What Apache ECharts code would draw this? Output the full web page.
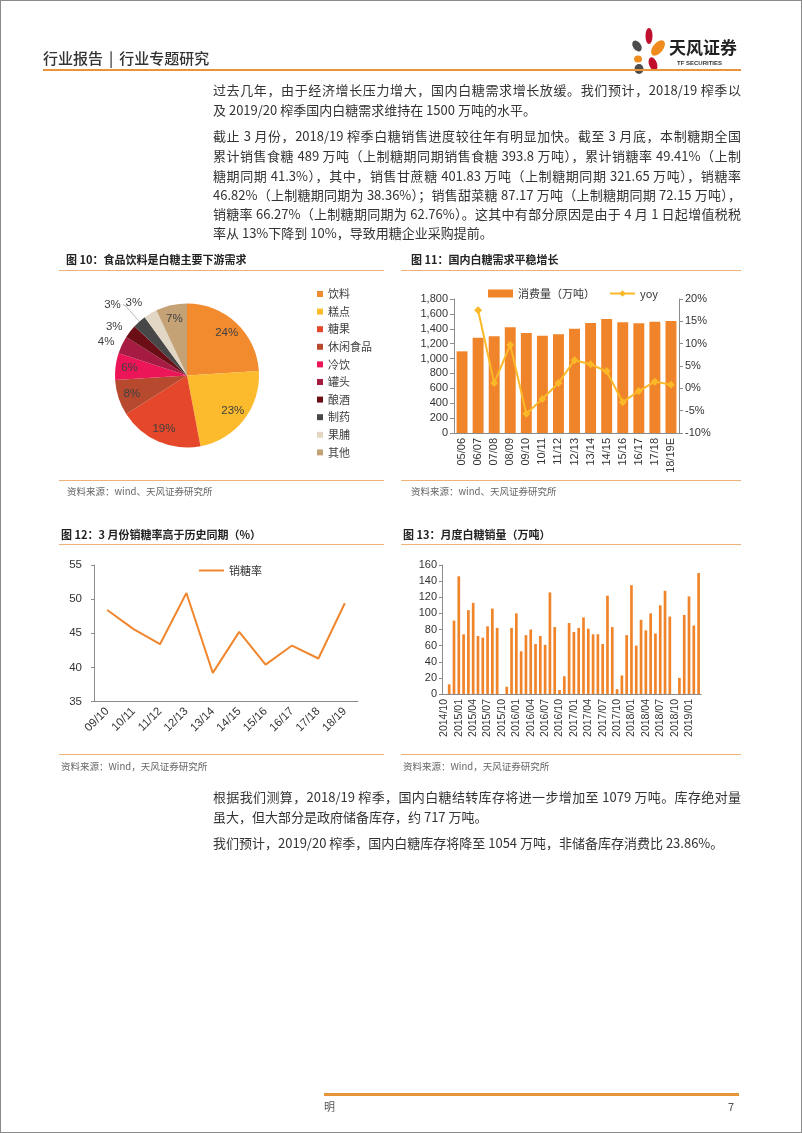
<!DOCTYPE html>
<html><head><meta charset="utf-8">
<script src="https://cdn.jsdelivr.net/npm/echarts/dist/echarts.min.js"></script>
<style>
html,body{margin:0;padding:0;background:#fff;}
#page{position:relative;width:802px;height:1133px;overflow:hidden;background:#fff;box-sizing:border-box;border:1px solid #8a8a8a;font-family:"Noto Sans CJK SC","Noto Sans",sans-serif;}
#chart{position:absolute;left:0;top:0;width:802px;height:1133px;}
.ln{position:absolute;left:212px;width:528px;font-size:13px;line-height:20px;height:20px;color:#333;white-space:nowrap;}
.j{text-align:justify;text-align-last:justify;white-space:normal;}
.ttl{position:absolute;font-size:11px;font-weight:bold;color:#222;line-height:16px;white-space:nowrap;}
.src{position:absolute;font-size:9.5px;color:#666;line-height:14px;white-space:nowrap;}
.hl{position:absolute;height:1.5px;background:#EDB27A;}
</style></head>
<body><div id="page">
<div id="chart"></div>
<div style="position:absolute;left:42px;top:47px;font-size:15px;line-height:20px;color:#333;font-weight:500;white-space:nowrap;">行业报告<span style="padding:0 6px;">|</span>行业专题研究</div>
<svg style="position:absolute;left:0;top:0" width="802" height="90">
<ellipse cx="648" cy="35" rx="3.5" ry="8" fill="#C0102E"/>
<ellipse cx="636" cy="45" rx="4" ry="6" fill="#4D4D4D" transform="rotate(-35 636 45)"/>
<ellipse cx="657" cy="47" rx="5" ry="9" fill="#F08C1E" transform="rotate(40 657 47)"/>
<ellipse cx="637" cy="58" rx="4" ry="3.5" fill="#F08C1E"/>
<ellipse cx="652" cy="63" rx="4" ry="7" fill="#C0102E" transform="rotate(-20 652 63)"/>
<ellipse cx="638" cy="68" rx="4.5" ry="5" fill="#4D4D4D"/>
</svg>
<div style="position:absolute;left:668px;top:35px;font-size:17px;line-height:22px;font-weight:bold;color:#222;white-space:nowrap;">天风证券</div>
<div style="position:absolute;left:676px;top:58px;font-size:6px;line-height:8px;font-weight:bold;color:#333;white-space:nowrap;font-family:'Liberation Sans',sans-serif;">TF SECURITIES</div>
<div style="position:absolute;left:42px;top:67.5px;width:698px;height:2.5px;background:#E8953A;"></div>

<div class="ln j" style="top:78.5px">过去几年，由于经济增长压力增大，国内白糖需求增长放缓。我们预计，2018/19 榨季以</div>
<div class="ln" style="top:99px">及 2019/20 榨季国内白糖需求维持在 1500 万吨的水平。</div>
<div class="ln j" style="top:125px">截止 3 月份，2018/19 榨季白糖销售进度较往年有明显加快。截至 3 月底，本制糖期全国</div>
<div class="ln j" style="top:145px">累计销售食糖 489 万吨（上制糖期同期销售食糖 393.8 万吨），累计销糖率 49.41%（上制</div>
<div class="ln j" style="top:164.5px">糖期同期 41.3%），其中，销售甘蔗糖 401.83 万吨（上制糖期同期 321.65 万吨），销糖率</div>
<div class="ln j" style="top:183.5px">46.82%（上制糖期同期为 38.36%）；销售甜菜糖 87.17 万吨（上制糖期同期 72.15 万吨），</div>
<div class="ln j" style="top:202.5px">销糖率 66.27%（上制糖期同期为 62.76%）。这其中有部分原因是由于 4 月 1 日起增值税税</div>
<div class="ln" style="top:221.5px">率从 13%下降到 10%，导致用糖企业采购提前。</div>

<div class="ttl" style="left:65px;top:250px">图 10：食品饮料是白糖主要下游需求</div>
<div class="hl" style="left:58px;top:268.5px;width:325px"></div>
<div class="hl" style="left:58px;top:478.5px;width:325px"></div>
<div class="src" style="left:66px;top:483px">资料来源：wind、天风证券研究所</div>

<div class="ttl" style="left:410px;top:250px">图 11：国内白糖需求平稳增长</div>
<div class="hl" style="left:400px;top:268.5px;width:340px"></div>
<div class="hl" style="left:400px;top:478.5px;width:340px"></div>
<div class="src" style="left:410px;top:483px">资料来源：wind、天风证券研究所</div>

<div class="ttl" style="left:60px;top:525px">图 12：3 月份销糖率高于历史同期（%）</div>
<div class="hl" style="left:58px;top:542.5px;width:325px"></div>
<div class="hl" style="left:58px;top:752.5px;width:325px"></div>
<div class="src" style="left:60px;top:758px">资料来源：Wind，天风证券研究所</div>

<div class="ttl" style="left:402px;top:525px">图 13：月度白糖销量（万吨）</div>
<div class="hl" style="left:400px;top:542.5px;width:340px"></div>
<div class="hl" style="left:400px;top:752.5px;width:340px"></div>
<div class="src" style="left:402px;top:758px">资料来源：Wind，天风证券研究所</div>

<div class="ln j" style="top:786px">根据我们测算，2018/19 榨季，国内白糖结转库存将进一步增加至 1079 万吨。库存绝对量</div>
<div class="ln" style="top:805.5px">虽大，但大部分是政府储备库存，约 717 万吨。</div>
<div class="ln" style="top:832px">我们预计，2019/20 榨季，国内白糖库存将降至 1054 万吨，非储备库存消费比 23.86%。</div>

<div style="position:absolute;left:323px;top:1092px;width:415px;height:2.5px;background:#E8953A;"></div>
<div style="position:absolute;left:323px;top:1098px;font-size:11px;line-height:14px;color:#555;">明</div>
<div style="position:absolute;left:727px;top:1098px;font-size:11px;line-height:14px;color:#555;">7</div>
</div>
<script>
// ---- Figure 10 data ----
const pieNames = ['饮料','糕点','糖果','休闲食品','冷饮','罐头','酿酒','制药','果脯','其他'];
const pieValues = [24,23,19,8,6,4,3,3,3,7];
const pieColors = ['#F28A2E','#FBBB2D','#E4472A','#B7492F','#EC1557','#A51B42','#6B0E16','#474747','#E2D6C4','#C4A276'];
const pieOutside = [5,6,7,8];
// ---- Figure 11 data ----
const seasons11 = ['05/06','06/07','07/08','08/09','09/10','10/11','11/12','12/13','13/14','14/15','15/16','16/17','17/18','18/19E'];
const consumption = [1097,1281,1299,1419,1343,1307,1325,1401,1478,1531,1487,1473,1496,1504];
const yoy = ['-',17.5,1.2,9.7,-5.7,-2.4,1.2,6.3,5.4,3.8,-3.1,-0.6,1.5,0.8];
const leftTicks11 = {min:0,max:1800,interval:200};
const rightTicks11 = {min:-10,max:20,interval:5};
// ---- Figure 12 data ----
const seasons12 = ['09/10','10/11','11/12','12/13','13/14','14/15','15/16','16/17','17/18','18/19'];
const salesRate = [48.4,45.6,43.4,50.9,39.2,45.2,40.4,43.2,41.3,49.4];
const ticks12 = {min:35,max:55,interval:5};
// ---- Figure 13 data ----
const months13 = ['2014/10','2014/11','2014/12','2015/01','2015/02','2015/03','2015/04','2015/05','2015/06','2015/07','2015/08','2015/09',
'2015/10','2015/11','2015/12','2016/01','2016/02','2016/03','2016/04','2016/05','2016/06','2016/07','2016/08','2016/09',
'2016/10','2016/11','2016/12','2017/01','2017/02','2017/03','2017/04','2017/05','2017/06','2017/07','2017/08','2017/09',
'2017/10','2017/11','2017/12','2018/01','2018/02','2018/03','2018/04','2018/05','2018/06','2018/07','2018/08','2018/09',
'2018/10','2018/11','2018/12','2019/01','2019/02','2019/03'];
const monthlySales = [0,12,91,146,74,104,113,72,70,84,106,82,
0,9,82,100,53,73,80,62,72,61,126,83,
5,22,88,77,82,95,81,74,74,62,122,83,
6,23,73,135,60,92,79,100,75,110,128,96,
0,20,98,121,85,150];
const ticks13 = {min:0,max:160,interval:20};

const FONT = '"Liberation Sans","Noto Sans CJK SC",sans-serif';
const axisGray = '#8C8C8C';
const lblColor = '#333';

const chart = echarts.init(document.getElementById('chart'), null, {renderer:'canvas'});
const pieCenter = [186, 374.5];
const outsideLine = {5:{show:false,length:6}, 6:{show:false,length:7}, 7:{show:true,length:22,length2:2}, 8:{show:false,length:12}};

const option = {
  animation:false,
  textStyle:{fontFamily:FONT},
  legend:[
    {data:pieNames, orient:'vertical', left:316, top:287, padding:0, itemWidth:6, itemHeight:6, itemGap:5.6, icon:'rect',
     textStyle:{fontSize:11, color:'#404040', lineHeight:12, fontFamily:'"Noto Sans CJK SC",sans-serif'}, selectedMode:false},
    {data:[{name:'消费量（万吨）',icon:'rect'},{name:'yoy'}], left:487, top:287, padding:0, itemWidth:25, itemHeight:8, itemGap:14,
     textStyle:{fontSize:11, color:'#333', fontFamily:'"Noto Sans CJK SC",sans-serif'}, selectedMode:false},
    {data:[{name:'销糖率', icon:'rect'}], left:198, top:564, padding:0, itemWidth:25, itemHeight:2,
     textStyle:{fontSize:11, color:'#333', fontFamily:'"Noto Sans CJK SC",sans-serif'}, selectedMode:false}
  ],
  grid:[
    {left:453, top:298, width:225, height:134},
    {left:93, top:564, width:264, height:136.5},
    {left:441, top:564, width:259, height:129}
  ],
  xAxis:[
    {gridIndex:0, type:'category', data:seasons11,
     axisLine:{lineStyle:{color:axisGray}}, axisTick:{length:4, lineStyle:{color:axisGray}},
     axisLabel:{rotate:90, margin:5, fontSize:11, color:lblColor}},
    {gridIndex:1, type:'category', data:seasons12,
     axisLine:{lineStyle:{color:axisGray}}, axisTick:{length:4, lineStyle:{color:axisGray}},
     axisLabel:{rotate:45, margin:8, fontSize:11.5, color:lblColor}},
    {gridIndex:2, type:'category', data:months13,
     axisLine:{lineStyle:{color:axisGray}}, axisTick:{interval:2, length:3, lineStyle:{color:axisGray}},
     axisLabel:{rotate:90, interval:2, margin:5, fontSize:10.5, color:lblColor}}
  ],
  yAxis:[
    {gridIndex:0, type:'value', min:leftTicks11.min, max:leftTicks11.max, interval:leftTicks11.interval,
     axisLine:{show:true, lineStyle:{color:axisGray}}, axisTick:{show:true, length:4, lineStyle:{color:axisGray}},
     splitLine:{show:false}, axisLabel:{fontSize:11, color:lblColor, margin:6, formatter:v=>v.toLocaleString('en-US')}},
    {gridIndex:0, type:'value', position:'right', min:rightTicks11.min, max:rightTicks11.max, interval:rightTicks11.interval,
     axisLine:{show:true, lineStyle:{color:axisGray}}, axisTick:{show:true, length:4, lineStyle:{color:axisGray}},
     splitLine:{show:false}, axisLabel:{fontSize:11, color:lblColor, margin:6, formatter:v=>v+'%'}},
    {gridIndex:1, type:'value', min:ticks12.min, max:ticks12.max, interval:ticks12.interval,
     axisLine:{show:true, lineStyle:{color:axisGray}}, axisTick:{show:true, length:3, lineStyle:{color:axisGray}},
     splitLine:{show:false}, axisLabel:{fontSize:11.5, color:lblColor, margin:12}},
    {gridIndex:2, type:'value', min:ticks13.min, max:ticks13.max, interval:ticks13.interval,
     axisLine:{show:true, lineStyle:{color:axisGray}}, axisTick:{show:true, length:3, lineStyle:{color:axisGray}},
     splitLine:{show:false}, axisLabel:{fontSize:11, color:lblColor, margin:5}}
  ],
  series:[
    {type:'pie', name:'食品饮料', center:pieCenter, radius:[0,72], startAngle:90, clockwise:true,
     avoidLabelOverlap:false, silent:true,
     label:{position:'outside', fontSize:11.5, color:'#404040', distanceToLabelLine:2, formatter:'{c}%'},
     labelLine:{length:5, length2:0, lineStyle:{color:'#A6A6A6', width:0.8}},
     data:pieNames.map((n,i)=>({name:n, value:pieValues[i], itemStyle:{color:pieColors[i]},
       label:{show:pieOutside.indexOf(i)>=0},
       labelLine: outsideLine[i] || {show:false}}))},
    {type:'pie', name:'labels', center:pieCenter, radius:[0,110], startAngle:90, clockwise:true,
     avoidLabelOverlap:false, silent:true, z:5,
     label:{position:'inside', fontSize:11.5, color:'#404040', formatter:'{c}%'},
     labelLine:{show:false},
     itemStyle:{color:'rgba(0,0,0,0)', borderWidth:0},
     emphasis:{disabled:true},
     data:pieNames.map((n,i)=>({name:n, value:pieValues[i], itemStyle:{color:'rgba(0,0,0,0)'},
       label:{show:pieOutside.indexOf(i)<0}}))},
    {type:'bar', name:'消费量（万吨）', xAxisIndex:0, yAxisIndex:0, data:consumption, barWidth:'68%',
     itemStyle:{color:'#F0842A'}},
    {type:'line', name:'yoy', xAxisIndex:0, yAxisIndex:1, data:yoy, symbol:'diamond', symbolSize:8,
     lineStyle:{color:'#FBB829', width:2}, itemStyle:{color:'#FBB829'}, z:5},
    {type:'line', name:'销糖率', xAxisIndex:1, yAxisIndex:2, data:salesRate, symbol:'none',
     lineStyle:{color:'#F0862E', width:2}, itemStyle:{color:'#F0862E'}},
    {type:'bar', name:'月度白糖销量', xAxisIndex:2, yAxisIndex:3, data:monthlySales, barWidth:'56%',
     itemStyle:{color:'#F0842A'}}
  ]
};
chart.setOption(option);
</script>
</body></html>
